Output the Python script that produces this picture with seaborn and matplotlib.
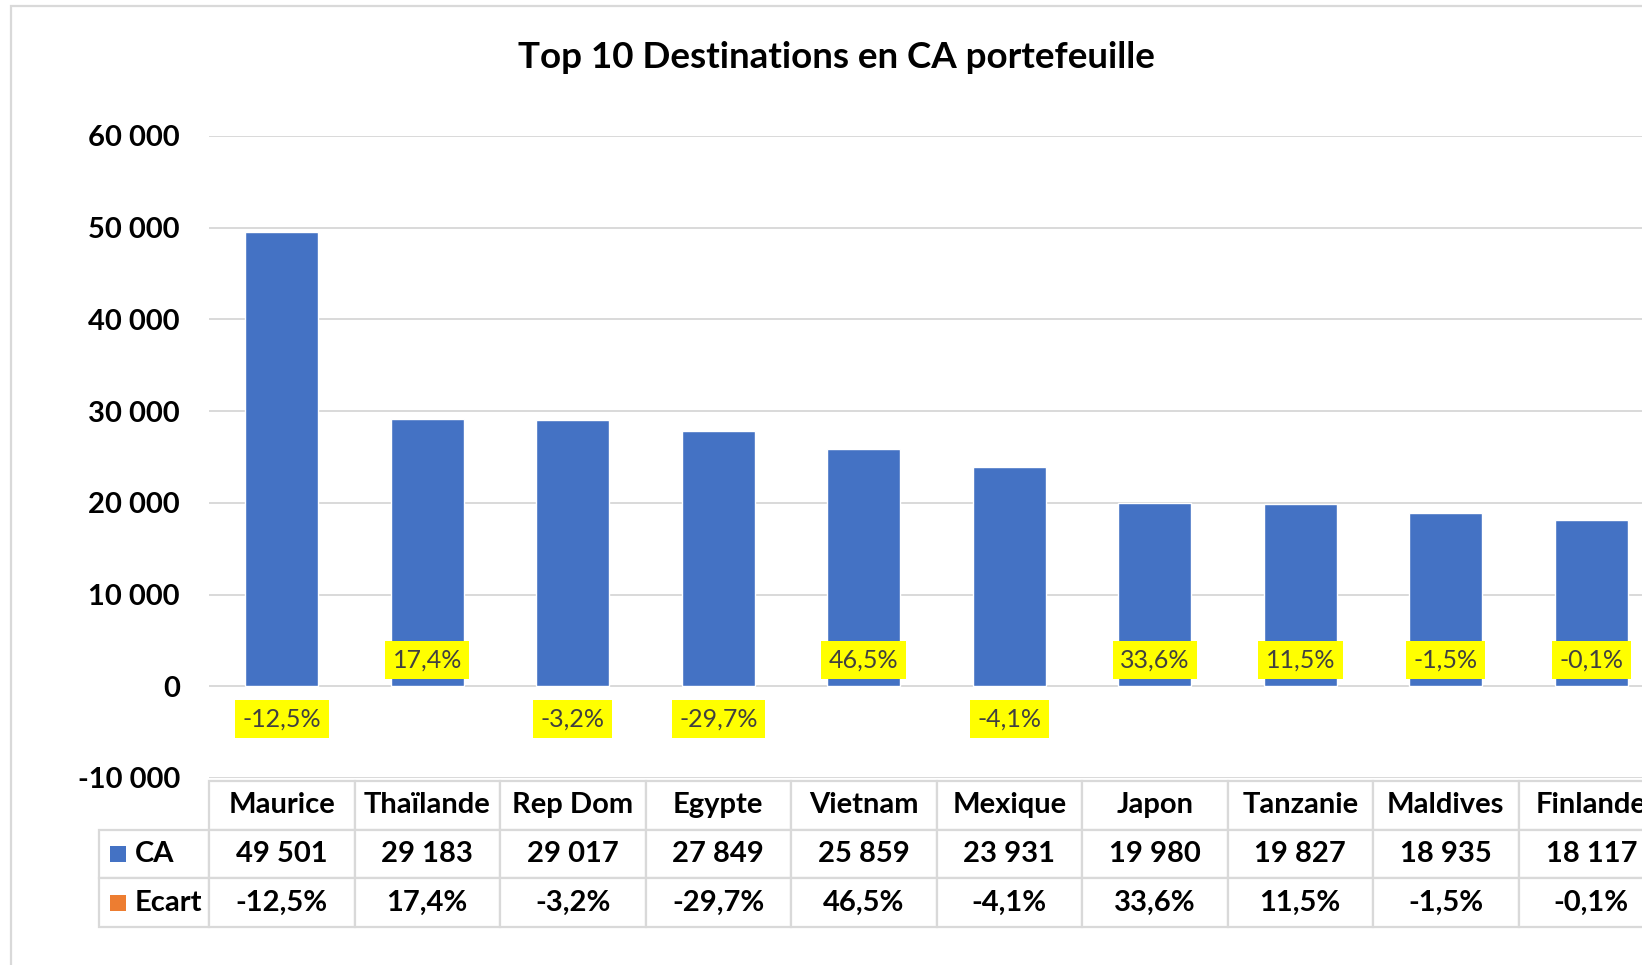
import matplotlib
matplotlib.use("Agg")
import matplotlib.pyplot as plt
import seaborn as sns
import pandas as pd
from matplotlib.patches import Rectangle
from matplotlib.ticker import FuncFormatter

# ---- data ----
categories = ["Maurice", "Thaïlande", "Rep Dom", "Egypte", "Vietnam",
              "Mexique", "Japon", "Tanzanie", "Maldives", "Finlande"]
ca = [49501, 29183, 29017, 27849, 25859, 23931, 19980, 19827, 18935, 18117]
ecart = [-12.5, 17.4, -3.2, -29.7, 46.5, -4.1, 33.6, 11.5, -1.5, -0.1]
title = "Top 10 Destinations en CA portefeuille"
series_names = ["CA", "Ecart"]

BLUE = "#4472C4"
ORANGE = "#ED7D31"
GRID = "#D9D9D9"

sns.set_theme(style="white")
plt.rcParams["font.family"] = ["Lato", "DejaVu Sans"]

W, H = 1642, 965
fig = plt.figure(figsize=(W / 100, H / 100), dpi=100)
fig.patch.set_facecolor("white")

# outer chart border (cropped at right / bottom)
fig.add_artist(Rectangle((11 / W, -0.1), 1.2, 1 - 6 / H + 0.1,
                         transform=fig.transFigure, fill=False,
                         edgecolor=GRID, linewidth=1.6))

ax_left, ax_w = 209 / W, 1455 / W
ax_bottom, ax_h = 1 - 778 / H, 642 / H
ax = fig.add_axes([ax_left, ax_bottom, ax_w, ax_h])

df = pd.DataFrame({"Destination": pd.Categorical(categories, categories=categories,
                                                 ordered=True),
                   "CA": ca})
sns.barplot(data=df, x="Destination", y="CA", color=BLUE, width=0.5,
            saturation=1, ax=ax, zorder=3)

ax.set_xlim(-0.5, len(categories) - 0.5)
ax.set_ylim(-10000, 60000)
ax.set_yticks(range(-10000, 60001, 10000))
ax.yaxis.set_major_formatter(FuncFormatter(lambda v, p: f"{int(v):,}".replace(",", " ")))
ax.yaxis.grid(True, color=GRID, linewidth=1.4, zorder=0)
ax.xaxis.grid(False)
for s in ax.spines.values():
    s.set_visible(False)
ax.tick_params(axis="y", length=0, pad=21, labelsize=21)
for t in ax.get_yticklabels():
    t.set_fontweight("bold")
    t.set_color("black")
ax.set_xticks([])
ax.set_xlabel("")
ax.set_ylabel("")
ax.set_facecolor("none")

# Ecart data labels (yellow boxes)
for i, v in enumerate(ecart):
    txt = f"{v:.1f}%".replace(".", ",")
    above = v > -2
    ax.annotate(txt, xy=(i, 0), xytext=(0, 26 if above else -33),
                textcoords="offset pixels", ha="center", va="center",
                fontsize=18, color="#404040", zorder=5,
                bbox=dict(boxstyle="square,pad=0.3", facecolor="#FFFF00",
                          edgecolor="none"))

# title
fig.text(836 / W, 1 - 58 / H, title, ha="center", va="center",
         fontsize=26.5, fontweight="bold", color="black")

# data table (first column holds the series legend)
ca_str = [f"{v:,}".replace(",", " ") for v in ca]
ec_str = [f"{v:.1f}%".replace(".", ",") for v in ecart]
lab_w = (209 - 99) / 1455
t_left = -lab_w
t_bottom = -(927 - 778) / 642
t_height = (927 - 781) / 642
tbl = ax.table(cellText=[[""] + ca_str, [""] + ec_str],
               colLabels=[""] + categories, cellLoc="center",
               colWidths=[lab_w] + [0.1] * len(categories),
               bbox=[t_left, t_bottom, 1 + lab_w, t_height])
tbl.auto_set_font_size(False)
for (r, c), cell in tbl.get_celld().items():
    cell.set_edgecolor(GRID)
    cell.set_linewidth(1.6)
    cell.set_facecolor("white")
    cell.get_text().set_fontsize(21)
    cell.get_text().set_fontweight("bold")
    cell.get_text().set_color("black")
    if r == 0 and c == 0:
        cell.visible_edges = ""
        cell.set_facecolor("none")

row_h = t_height / 3
t_top = t_bottom + t_height
for k, (name, col) in enumerate(zip(series_names, [BLUE, ORANGE])):
    yc = t_top - (k + 1.5) * row_h
    sq_w, sq_h = 16 / 1455, 16 / 642
    ax.add_patch(Rectangle((-0.068, yc - sq_h / 2), sq_w, sq_h,
                           transform=ax.transAxes, facecolor=col,
                           edgecolor="none", clip_on=False, zorder=6))
    ax.text(-0.051, yc, name, transform=ax.transAxes, ha="left",
            va="center", fontsize=21, fontweight="bold", color="black",
            zorder=6)

fig.savefig("out.png", dpi=100, facecolor="white")
